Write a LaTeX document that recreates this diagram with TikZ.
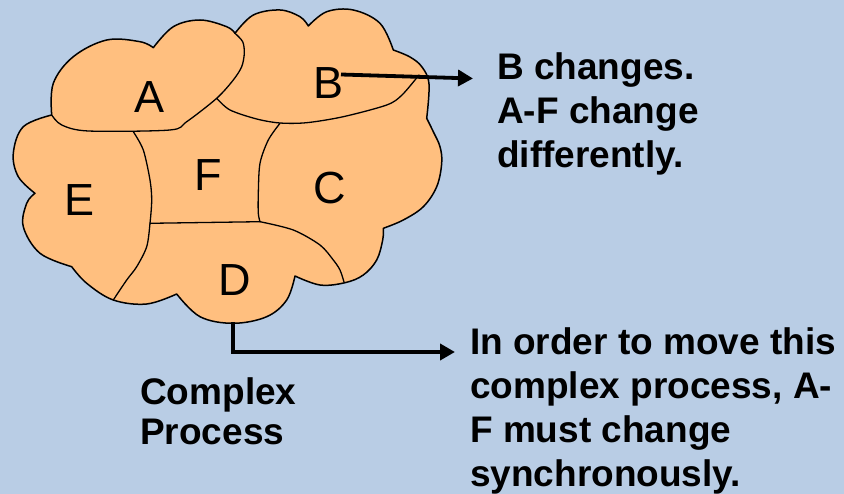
\documentclass[tikz,border=0pt]{standalone}
\usepackage{fontspec}
\setmainfont{Liberation Sans}
\usetikzlibrary{arrows.meta}
\definecolor{skyback}{RGB}{185,205,229}
\definecolor{peach}{RGB}{255,191,127}
\begin{document}
\begin{tikzpicture}[x=1pt,y=-1pt,
  outline/.style={draw=black,line width=1.5pt,line join=round},
  divider/.style={draw=black,line width=1.3pt,line cap=round,line join=round},
  pointer/.style={draw=black,line width=3.8pt,-{Triangle[length=15pt,width=16pt]}},
  part/.style={font=\fontsize{45}{54}\selectfont,inner sep=0pt},
  remark/.style={align=left,inner sep=0pt,anchor=base west}]
\useasboundingbox (0,0) rectangle (844,494);
\fill[skyback] (0,0) rectangle (844,494);

% cloud outline, one bulge at a time
\path[outline,fill=peach]
  plot[smooth,tension=0.6] coordinates {(51.7,115) (53.3,83.3) (73.3,56.7) (106.7,40) (140,41.7) (153.3,47.7)}
  -- plot[smooth,tension=0.6] coordinates {(153.3,47.7) (173.3,26.7) (200,20) (226.7,26.7) (235,33.3)}
  -- plot[smooth,tension=0.6] coordinates {(235,33.3) (253.3,15) (280,10) (300,16.7) (308.3,26)}
  -- plot[smooth,tension=0.6] coordinates {(308.3,26) (326.7,11.7) (353.3,10) (380,23.3) (393.3,50)}
  -- plot[smooth,tension=0.6] coordinates {(393.3,50) (410,57) (422,67) (429,84) (426.7,118.3)}
  -- plot[smooth,tension=0.6] coordinates {(426.7,118.3) (433.3,131.7) (440,146.7) (441.7,163.3) (436.7,186.7) (423.3,206.7) (403.3,220) (383.3,228.3)}
  -- plot[smooth,tension=0.6] coordinates {(383.3,228.3) (382.7,240) (376.7,260) (363.3,275) (345,282.7) (320,285) (295,276)}
  -- plot[smooth,tension=0.6] coordinates {(295,276) (286.7,300) (266.7,316.7) (233.3,323.3) (200,316.7) (176.7,294)}
  -- plot[smooth,tension=0.6] coordinates {(176.7,294) (146.7,304) (113.3,300) (86.7,283.3) (71.7,266.7)}
  -- plot[smooth,tension=0.6] coordinates {(71.7,266.7) (40,253.3) (23.3,226.7) (26.7,203.3) (35,193.3)}
  -- plot[smooth,tension=0.6] coordinates {(35,193.3) (18.3,176.7) (13.3,153.3) (23.3,126.7) (51.7,115)}
  -- cycle;

% borders between the parts
\draw[divider] plot[smooth,tension=0.5] coordinates {(51.7,115) (61.7,125) (88.3,131) (170,130) (186.7,121.7) (216.7,98.3) (233.3,80) (241.7,66.7) (244.3,53.3) (242.7,41.7) (235,33.3)};
\draw[divider] plot[smooth,tension=0.5] coordinates {(216.7,98.3) (230,110) (256.7,119) (280,123) (306.7,122.7) (343.3,116.7) (386.7,105) (402,95) (419,75)};
\draw[divider] plot[smooth,tension=0.5] coordinates {(133.3,131.7) (143.3,150) (150,180) (151.7,200) (150,223.3) (146.7,246.7) (136.7,266.7) (126.7,280) (113.3,300)};
\draw[divider] (150,223.3) -- (260,221.7);
\draw[divider] plot[smooth,tension=0.5] coordinates {(280,123.3) (268.3,140) (260,163.3) (258.3,193.3) (258.3,213.3) (260,221.7)};
\draw[divider] plot[smooth,tension=0.5] coordinates {(260,221.7) (293.3,230) (320,245) (333.3,260) (340,270) (344,282)};

% part letters
\node[part] (A) at (150,96.7) {A};
\node[part] (B) at (328.3,83.3) {B};
\node[part] (F) at (208.3,175) {F};
\node[part] (C) at (330,188.3) {C};
\node[part] (E) at (79.3,200) {E};
\node[part] (D) at (235,280) {D};

% notes (anchored at the baseline of their last line)
\node[remark,font=\fontsize{37}{44}\selectfont\bfseries] (bnote) at (497,168) {B changes.\\A-F change\\differently.};
\node[remark,font=\fontsize{37}{44}\selectfont\bfseries] (dnote) at (470,486) {In order to move this\\complex process, A-\\F must change\\synchronously.};
\node[remark,font=\fontsize{37}{40}\selectfont\bfseries] (cname) at (140,445) {Complex\\Process};

% pointers to the notes
\coordinate (bstart) at (341,74.5);
\coordinate (bend) at (473,78.5);
\coordinate (dstart) at (233,322);
\coordinate (dend) at (455,352);
\draw[pointer] (bstart) -- (bend);
\draw[pointer] (dstart) |- (dend);
\end{tikzpicture}
\end{document}
